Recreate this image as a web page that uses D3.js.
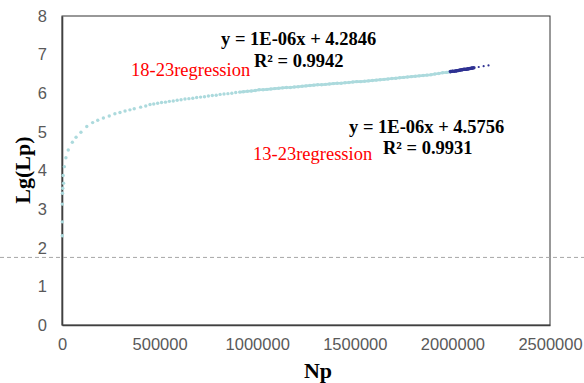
<!DOCTYPE html>
<html>
<head>
<meta charset="utf-8">
<script src="https://cdn.jsdelivr.net/npm/d3@7/dist/d3.min.js"></script>
<style>
  body { margin: 0; background: #fff; }
  svg { display: block; }
</style>
</head>
<body>
<div id="chart"></div>
<script>
// ---- data ----
const xTicks = [0, 500000, 1000000, 1500000, 2000000, 2500000];
const yTicks = [0, 1, 2, 3, 4, 5, 6, 7, 8];

// 13-23 series (light)
const lightNp = [
  1500, 1500, 1500, 2500, 4000, 6000, 8000, 12000, 20000, 32000, 53000, 72000, 97000,
  127000, 157000, 183000, 212000, 242000, 271000, 297000, 323000, 348000, 370000,
  403000, 429000, 451000,
  470000, 490000, 510000, 530000, 550000, 570000, 590000, 610000, 630000, 650000,
  670000, 690000, 710000, 730000, 750000, 770000, 790000, 810000, 830000, 850000,
  870000, 890000, 910000, 930000, 950000, 970000, 990000, 1010000, 1030000, 1050000,
  1070000, 1090000, 1110000, 1130000, 1150000, 1170000, 1190000, 1210000, 1230000,
  1250000, 1270000, 1290000, 1310000, 1330000, 1350000, 1370000, 1390000, 1410000,
  1430000, 1450000, 1470000, 1490000, 1510000, 1530000, 1550000, 1570000, 1590000,
  1610000, 1630000, 1650000, 1670000, 1690000, 1710000, 1730000, 1750000, 1770000,
  1790000, 1810000, 1830000, 1850000, 1870000, 1890000, 1910000, 1930000, 1950000,
  1970000, 1985000
];
const lightLg = [
  2.31, 2.67, 3.13, 3.41, 3.54, 3.87, 3.67, 4.10, 4.33, 4.53, 4.73, 4.86, 4.99,
  5.14, 5.24, 5.30, 5.36, 5.41, 5.47, 5.50, 5.54, 5.57, 5.60,
  5.64, 5.67, 5.71,
  5.72, 5.74, 5.76, 5.77, 5.79, 5.80, 5.82, 5.83, 5.85, 5.86,
  5.87, 5.89, 5.90, 5.91, 5.93, 5.94, 5.95, 5.97, 5.98, 5.99,
  6.00, 6.02, 6.03, 6.04, 6.05, 6.06, 6.07, 6.09, 6.09, 6.10,
  6.11, 6.12, 6.13, 6.14, 6.15, 6.15, 6.16, 6.17, 6.18,
  6.19, 6.20, 6.21, 6.22, 6.22, 6.23, 6.24, 6.25, 6.26,
  6.26, 6.27, 6.28, 6.29, 6.30, 6.30, 6.31, 6.32, 6.33,
  6.34, 6.35, 6.36, 6.37, 6.38, 6.39, 6.40, 6.41, 6.42,
  6.43, 6.44, 6.45, 6.46, 6.47, 6.48, 6.50, 6.51, 6.53,
  6.54, 6.55
];

// 18-23 series (dark)
const darkNp = [1990000, 2000000, 2010000, 2020000, 2030000, 2040000, 2050000,
  2060000, 2070000, 2080000, 2090000, 2100000, 2110000];
const darkLg = [6.56, 6.57, 6.57, 6.58, 6.59, 6.60, 6.61, 6.62, 6.62, 6.63, 6.64, 6.65, 6.66];
// sparse tail of the dark series
const tailNp = [2135000, 2160000, 2185000];
const tailLg = [6.68, 6.70, 6.72];

// dashed reference line
const refLg = 1.75;

// ---- chart ----
const W = 584, H = 383;
const margin = {top: 16, right: 34, bottom: 58, left: 62};
const width = W - margin.left - margin.right;
const height = H - margin.top - margin.bottom;

const svg = d3.select('#chart').append('svg')
    .attr('width', W)
    .attr('height', H);

const x = d3.scaleLinear().domain([0, 2500000]).range([margin.left, margin.left + width]);
const y = d3.scaleLinear().domain([0, 8]).range([margin.top + height, margin.top]);

const lightCol = '#acdadd';
const darkCol = '#2e3192';

// plot frame
svg.append('rect')
    .attr('x', margin.left).attr('y', margin.top)
    .attr('width', width).attr('height', height)
    .attr('fill', 'none')
    .attr('stroke', '#333')
    .attr('stroke-width', 1);

// axes (labels only)
const xAxis = svg.append('g')
    .attr('transform', 'translate(0,' + (margin.top + height) + ')')
    .call(d3.axisBottom(x).tickValues(xTicks).tickFormat(d3.format('d')).tickSize(0).tickPadding(13));
const yAxis = svg.append('g')
    .attr('transform', 'translate(' + margin.left + ',0)')
    .call(d3.axisLeft(y).tickValues(yTicks).tickFormat(d3.format('d')).tickSize(0).tickPadding(15));

[xAxis, yAxis].forEach(a => {
    a.select('.domain').attr('stroke', '#404040').attr('stroke-width', 1.6);
    a.selectAll('text')
        .attr('fill', '#595959')
        .style('font-family', '"Liberation Sans", Arial, sans-serif')
        .style('font-size', '16.5px');
});

// dashed reference line across the whole picture
svg.append('line')
    .attr('x1', 0).attr('x2', W)
    .attr('y1', y(refLg)).attr('y2', y(refLg))
    .attr('stroke', '#a6a6a6')
    .attr('stroke-width', 1)
    .attr('stroke-dasharray', '4,3');

// light series
const light = lightNp.map((n, i) => ({n: n, v: lightLg[i]}));
const line = d3.line().x(d => x(d.n)).y(d => y(d.v));

svg.append('path')
    .datum(light.filter(d => d.n >= 900000))
    .attr('d', line)
    .attr('fill', 'none')
    .attr('stroke', lightCol)
    .attr('stroke-width', 2.6);

svg.selectAll('.light')
    .data(light)
    .enter().append('circle')
    .attr('class', 'light')
    .attr('cx', d => x(d.n))
    .attr('cy', d => y(d.v))
    .attr('r', 1.7)
    .attr('fill', lightCol);

// dark series
const dark = darkNp.map((n, i) => ({n: n, v: darkLg[i]}));
svg.append('path')
    .datum(dark)
    .attr('d', line)
    .attr('fill', 'none')
    .attr('stroke', darkCol)
    .attr('stroke-width', 3.2);

svg.selectAll('.dark')
    .data(dark)
    .enter().append('circle')
    .attr('class', 'dark')
    .attr('cx', d => x(d.n))
    .attr('cy', d => y(d.v))
    .attr('r', 1.8)
    .attr('fill', darkCol);

svg.selectAll('.tail')
    .data(tailNp.map((n, i) => ({n: n, v: tailLg[i]})))
    .enter().append('circle')
    .attr('class', 'tail')
    .attr('cx', d => x(d.n))
    .attr('cy', d => y(d.v))
    .attr('r', 1.1)
    .attr('fill', darkCol);

// axis titles
const serif = '"Liberation Serif", "Times New Roman", serif';
svg.append('text')
    .attr('x', 318).attr('y', 378)
    .attr('text-anchor', 'middle')
    .style('font-family', serif).style('font-weight', 'bold').style('font-size', '22px')
    .text('Np');
svg.append('text')
    .attr('transform', 'translate(30,170) rotate(-90)')
    .attr('text-anchor', 'middle')
    .style('font-family', serif).style('font-weight', 'bold').style('font-size', '22px')
    .text('Lg(Lp)');

// regression annotations
function note(tx, ty, str, bold, col) {
    svg.append('text')
        .attr('x', tx).attr('y', ty)
        .attr('fill', col)
        .style('font-family', serif)
        .style('font-weight', bold ? 'bold' : 'normal')
        .style('font-size', bold ? '18.5px' : '18.5px')
        .text(str);
}
note(221, 45, 'y = 1E-06x + 4.2846', true, '#000');
note(254, 67, 'R² = 0.9942', true, '#000');
note(131, 76, '18-23regression', false, '#ff0000');
note(349, 133, 'y = 1E-06x + 4.5756', true, '#000');
note(383, 154, 'R² = 0.9931', true, '#000');
note(253, 160, '13-23regression', false, '#ff0000');
</script>
</body>
</html>
